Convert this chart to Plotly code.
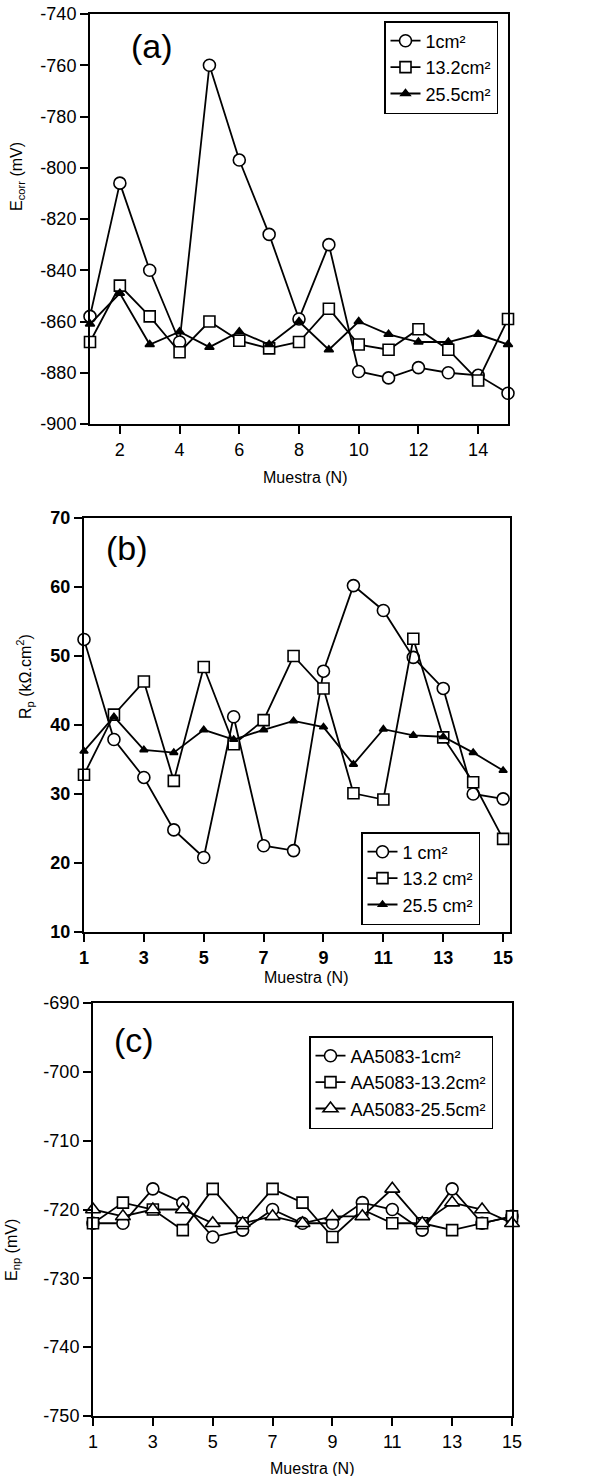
import plotly.graph_objects as go

N = list(range(1, 16))

# Panel (a): E_corr (mV)
a_1cm = [-858, -806, -840, -868, -760, -797, -826, -859, -830, -879.5, -882, -878, -880, -881, -888]
a_13cm = [-868, -846, -858, -872, -860, -867.5, -870.5, -868, -855, -869, -871, -863, -871, -883, -859]
a_25cm = [-861, -849, -869, -864, -870, -864, -869, -860, -871, -860, -865, -868, -868, -865, -869]

# Panel (b): Rp (kOhm.cm2)
b_1cm = [52.4, 37.9, 32.4, 24.8, 20.8, 41.2, 22.5, 21.8, 47.8, 60.2, 56.6, 49.8, 45.3, 30.0, 29.3]
b_13cm = [32.8, 41.5, 46.3, 31.9, 48.4, 37.2, 40.7, 50.0, 45.3, 30.1, 29.2, 52.5, 38.2, 31.7, 23.5]
b_25cm = [36.2, 41.2, 36.4, 36.0, 39.3, 37.9, 39.3, 40.6, 39.7, 34.3, 39.4, 38.5, 38.3, 36.0, 33.4]

# Panel (c): E_np (mV)
c_1cm = [-722, -722, -717, -719, -724, -723, -720, -722, -722, -719, -720, -723, -717, -722, -721]
c_13cm = [-722, -719, -720, -723, -717, -722, -717, -719, -724, -720, -722, -722, -723, -722, -721]
c_25cm = [-720, -721, -720, -720, -722, -722, -721, -722, -721, -721, -717, -722, -719, -720, -722]

a_ticks = [2, 4, 6, 8, 10, 12, 14]
odd_ticks = [1, 3, 5, 7, 9, 11, 13, 15]
a_yticks = [-900, -880, -860, -840, -820, -800, -780, -760, -740]
a_ylabels = ["-900", "-880", "-860", "-840", "-820", "-800", "-780", "-760", "-740"]
c_yticks = [-750, -740, -730, -720, -710, -700, -690]
c_ylabels = ["-750", "-740", "-730", "-720", "-710", "-700", "-690"]

FONT = "Liberation Sans, Arial, sans-serif"
W, H = 598, 1476

def px(x):
    return x / W

def py(y):
    return 1 - y / H

fig = go.Figure()

def add(x, y, name, symbol, size, fill, xa, ya, legend):
    fig.add_trace(go.Scatter(
        x=x, y=y, name=name, mode="lines+markers",
        line=dict(color="black", width=1.8),
        marker=dict(symbol=symbol, size=size, color=fill,
                    line=dict(color="black", width=1.6)),
        xaxis=xa, yaxis=ya, legend=legend, cliponaxis=False))

add(N, a_1cm, "1cm²", "circle", 12, "white", "x", "y", "legend")
add(N, a_13cm, "13.2cm²", "square", 11, "white", "x", "y", "legend")
add(N, a_25cm, "25.5cm²", "triangle-up", 8, "black", "x", "y", "legend")

add(N, b_1cm, "1 cm²", "circle", 12, "white", "x2", "y2", "legend2")
add(N, b_13cm, "13.2 cm²", "square", 11, "white", "x2", "y2", "legend2")
add(N, b_25cm, "25.5 cm²", "triangle-up", 7, "black", "x2", "y2", "legend2")

add(N, c_1cm, "AA5083-1cm²", "circle", 12, "white", "x3", "y3", "legend3")
add(N, c_13cm, "AA5083-13.2cm²", "square", 11, "white", "x3", "y3", "legend3")
add(N, c_25cm, "AA5083-25.5cm²", "triangle-up", 13, "white", "x3", "y3", "legend3")

axis_common = dict(showgrid=False, zeroline=False, showline=True, linecolor="black",
                   linewidth=2, mirror=True, ticks="outside", ticklen=8, tickwidth=1.6,
                   tickcolor="black", automargin=False)

tick_font = dict(family=FONT, size=18, color="black")
bold_font = dict(family=FONT, size=18, color="black", weight="bold")

legend_common = dict(bgcolor="white", bordercolor="black", borderwidth=1.5,
                     font=dict(family=FONT, size=18, color="black"),
                     xanchor="right", yanchor="top", tracegroupgap=0,
                     itemwidth=30)

fig.update_layout(
    width=W, height=H,
    margin=dict(l=0, r=0, t=0, b=0, autoexpand=False),
    paper_bgcolor="white", plot_bgcolor="white",
    showlegend=True,
    xaxis=dict(domain=[px(90), px(508)], range=[1, 15], tickvals=a_ticks,
               anchor="y", tickfont=tick_font, **axis_common),
    yaxis=dict(domain=[py(424), py(14)], range=[-900, -740], tickvals=a_yticks,
               ticktext=a_ylabels, anchor="x", tickfont=tick_font, **axis_common),
    xaxis2=dict(domain=[px(84), px(510)], range=[1, 15.23], tickvals=odd_ticks,
                anchor="y2", tickfont=bold_font, **axis_common),
    yaxis2=dict(domain=[py(932), py(518)], range=[10, 70], dtick=10,
                anchor="x2", tickfont=bold_font, **axis_common),
    xaxis3=dict(domain=[px(93), px(512)], range=[1, 15], tickvals=odd_ticks,
                anchor="y3", tickfont=tick_font, **axis_common),
    yaxis3=dict(domain=[py(1416), py(1003)], range=[-750, -690], tickvals=c_yticks,
                ticktext=c_ylabels, anchor="x3", tickfont=tick_font, **axis_common),
    legend=dict(x=px(498), y=py(21), **legend_common),
    legend2=dict(x=px(480), y=py(832), **legend_common),
    legend3=dict(x=px(493), y=py(1036), **legend_common),
)

def ann(text, x, y, size, angle=0):
    fig.add_annotation(text=text, x=px(x), y=py(y), xref="paper", yref="paper",
                       showarrow=False, textangle=angle,
                       font=dict(family=FONT, size=size, color="black"),
                       xanchor="center", yanchor="middle")

# panel labels
ann("(a)", 152, 46, 34)
ann("(b)", 127, 548, 34)
ann("(c)", 134, 1040, 34)

# axis titles
ann("Muestra (N)", 305, 477, 16)
ann("Muestra (N)", 306, 977, 16)
ann("Muestra (N)", 312, 1468, 16)
ann("E<sub>corr</sub> (mV)", 18, 177, 16, -90)
ann("R<sub>p</sub> (kΩ.cm<sup>2</sup>)", 25, 677, 16, -90)
ann("E<sub>np</sub> (mV)", 12, 1250, 16, -90)

fig.write_html("out.html", config={"displayModeBar": False},
               post_script="document.body.style.margin='0';document.body.style.overflow='hidden';")
